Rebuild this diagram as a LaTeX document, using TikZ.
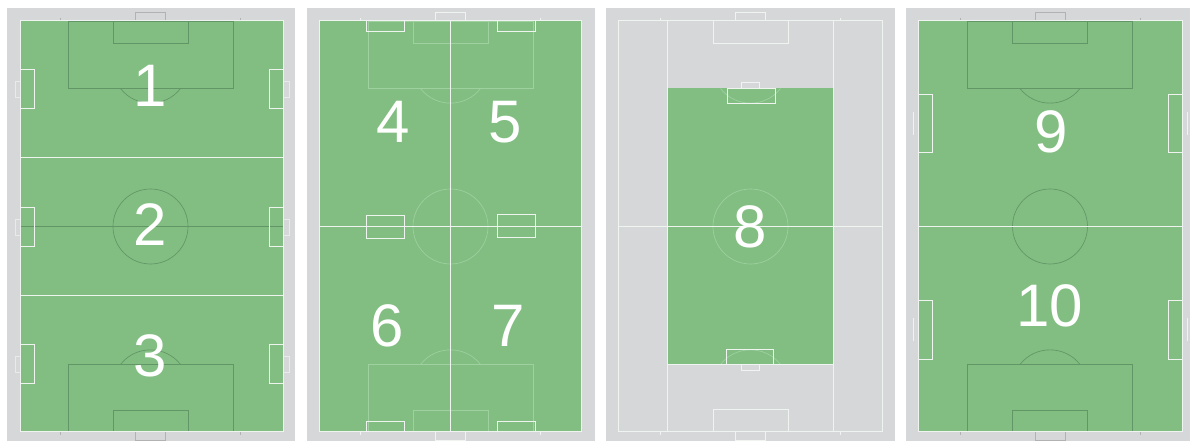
\documentclass[tikz,border=0pt]{standalone}
\usepackage{fontspec}
\setmainfont{Liberation Sans}
\definecolor{pitchgreen}{RGB}{130, 190, 130}
\definecolor{surround}{RGB}{214, 215, 217}
\definecolor{darkmark}{RGB}{98, 150, 102}
\definecolor{palemark}{RGB}{158, 208, 160}
\definecolor{softwhite}{RGB}{240, 244, 240}
\tikzset{
	numlabel/.style={text=white, font=\fontsize{45}{45}\selectfont, inner sep=0pt},
	whitemark/.style={draw=softwhite, line width=0.75pt},
	thinwhite/.style={draw=softwhite, line width=0.45pt},
	goalmark/.style={draw=#1, line width=0.5pt}
}
% arcs and centre circle, #1 = x of the centre, #2 = line style
\newcommand{\pitchcircles}[2]{
	\begin{scope}[shift={(#1,0)}]
		\draw[#2] (-30,88.5) .. controls (-15,108) and (15,108) .. (30,88.5);
		\draw[#2] (-30,364.5) .. controls (-15,345) and (15,345) .. (30,364.5);
		\draw[#2] (0,226.5) circle (37.5);
	\end{scope}
}
% penalty boxes and goal areas, #1 = x of the centre, #2 = line style
\newcommand{\pitchboxes}[2]{
	\begin{scope}[shift={(#1,0)}]
		\draw[#2] (-82.5,21) rectangle (82.5,88.5);
		\draw[#2] (-37.5,21) rectangle (37.5,43.5);
		\draw[#2] (-82.5,364.5) rectangle (82.5,431.5);
		\draw[#2] (-37.5,410) rectangle (37.5,431.5);
	\end{scope}
}
% goals behind both short ends
\newcommand{\pitchgoals}[2]{
	\begin{scope}[shift={(#1,0)}]
		\draw[#2] (-15,21) -- (-15,12.5) -- (15,12.5) -- (15,21);
		\draw[#2] (-15,431.5) -- (-15,440.5) -- (15,440.5) -- (15,431.5);
		\draw[#2] (-90,18) -- (-90,21);
		\draw[#2] (90,18) -- (90,21);
		\draw[#2] (-90,431.5) -- (-90,435);
		\draw[#2] (90,431.5) -- (90,435);
	\end{scope}
}
% side box on both long sides: #1 left x, #2 right x, #3 top, #4 bottom
\newcommand{\sideboxes}[4]{
	\draw[whitemark] (#1,#3) -- (#1+14,#3) -- (#1+14,#4) -- (#1,#4);
	\draw[whitemark] (#2,#3) -- (#2-14,#3) -- (#2-14,#4) -- (#2,#4);
}
% small goals beside the side boxes: #1 left x, #2 right x, #3 top, #4 bottom
\newcommand{\sidegoals}[4]{
	\draw[thinwhite, opacity=0.7] (#1,#3) -- (#1-5.5,#3) -- (#1-5.5,#4) -- (#1,#4);
	\draw[thinwhite, opacity=0.7] (#2,#3) -- (#2+5.5,#3) -- (#2+5.5,#4) -- (#2,#4);
}

\begin{document}
\begin{tikzpicture}[x=0.75pt, y=-0.75pt]
	\useasboundingbox (0,0) rectangle (1190,441);

	% --- Surrounds ---
	\fill[surround] (7,8) rectangle (295,441);
	\fill[surround] (307,8) rectangle (595,441);
	\fill[surround] (606,8) rectangle (895,441);
	\fill[surround] (906,8) rectangle (1190,441);

	% --- Green areas ---
	\fill[pitchgreen] (20.5,21) rectangle (283.5,431.5);
	\fill[pitchgreen] (319.5,21) rectangle (581.5,431.5);
	\fill[pitchgreen] (667.5,88.5) rectangle (832.5,364.5);
	\fill[pitchgreen] (918.5,21) rectangle (1182.5,431.5);

	% --- Pitch 1: three strips ---
	\pitchboxes{150.5}{goalmark=darkmark}
	\pitchcircles{150.5}{goalmark=darkmark}
	\pitchgoals{150.5}{goalmark=gray!60}
	\draw[goalmark=darkmark] (20.5,226.5) -- (283.5,226.5);
	\draw[whitemark] (20.5,21) rectangle (283.5,431.5);
	\draw[whitemark] (20.5,157.5) -- (283.5,157.5);
	\draw[whitemark] (20.5,295.5) -- (283.5,295.5);
	\sideboxes{20.5}{283.5}{69.5}{108.5}
	\sideboxes{20.5}{283.5}{207.5}{246.5}
	\sideboxes{20.5}{283.5}{344.5}{384}
	\sidegoals{20.5}{283.5}{81.5}{97}
	\sidegoals{20.5}{283.5}{219.5}{235.5}
	\sidegoals{20.5}{283.5}{356.5}{372}

	% --- Pitch 2: four quarters ---
	\pitchboxes{450.5}{goalmark=palemark}
	\pitchcircles{450.5}{goalmark=palemark}
	\pitchgoals{450.5}{thinwhite}
	\draw[whitemark] (319.5,21) rectangle (581.5,431.5);
	\draw[whitemark] (450.5,21) -- (450.5,431.5);
	\draw[whitemark] (319.5,226.5) -- (581.5,226.5);
	\draw[whitemark] (366.5,21) rectangle (404,32);
	\draw[whitemark] (497.5,21) rectangle (535.5,32);
	\draw[thinwhite] (366.5,215) rectangle (404,238);
	\draw[whitemark] (497.5,215) rectangle (535.5,238);
	\draw[whitemark] (366.5,421.5) rectangle (404,431.5);
	\draw[whitemark] (497.5,421.5) rectangle (535.5,431.5);

	% --- Pitch 3: middle block ---
	\pitchcircles{750.5}{goalmark=palemark}
	\pitchgoals{750.5}{thinwhite}
	\draw[whitemark] (618.5,21) rectangle (882.5,431.5);
	\draw[thinwhite] (618.5,226.5) -- (882.5,226.5);
	\draw[whitemark] (667.5,21) -- (667.5,431.5);
	\draw[whitemark] (833,21) -- (833,431.5);
	\draw[whitemark] (667.5,364.5) -- (833,364.5);
	\draw[whitemark] (713,21) rectangle (788,43.5);
	\draw[whitemark] (713,410) rectangle (788,431.5);
	\draw[whitemark] (727.5,88.5) rectangle (775,103.5);
	\draw[thinwhite] (741,88.5) -- (741,82.5) -- (759.5,82.5) -- (759.5,88.5);
	\draw[thinwhite] (726.5,364.5) -- (726.5,349.5) -- (773.5,349.5) -- (773.5,364.5);
	\draw[thinwhite] (741,364.5) -- (741,370.5) -- (759.5,370.5) -- (759.5,364.5);

	% --- Pitch 4: two halves ---
	\pitchboxes{1050}{goalmark=darkmark}
	\pitchcircles{1050}{goalmark=darkmark}
	\pitchgoals{1050}{goalmark=gray!60}
	\draw[whitemark] (918.5,21) rectangle (1182.5,431.5);
	\draw[whitemark] (918.5,226.5) -- (1182.5,226.5);
	\sideboxes{918.5}{1182.5}{94.5}{153}
	\sideboxes{918.5}{1182.5}{301}{359.5}
	\draw[thinwhite] (913.5,112) -- (913.5,135);
	\draw[thinwhite] (913.5,318) -- (913.5,341);
	\draw[thinwhite] (1187.5,112) -- (1187.5,135);
	\draw[thinwhite] (1187.5,318) -- (1187.5,341);

	% --- Numbers ---
	\node[numlabel] (num1) at (150,86) {1};
	\node[numlabel] (num2) at (150,225) {2};
	\node[numlabel] (num3) at (150,356) {3};
	\node[numlabel] (num4) at (393,122) {4};
	\node[numlabel] (num5) at (505,122) {5};
	\node[numlabel] (num6) at (387,326) {6};
	\node[numlabel] (num7) at (508,326) {7};
	\node[numlabel] (num8) at (750,227) {8};
	\node[numlabel] (num9) at (1051,132) {9};
	\node[numlabel] (num10) at (1050,306) {10};
\end{tikzpicture}
\end{document}
